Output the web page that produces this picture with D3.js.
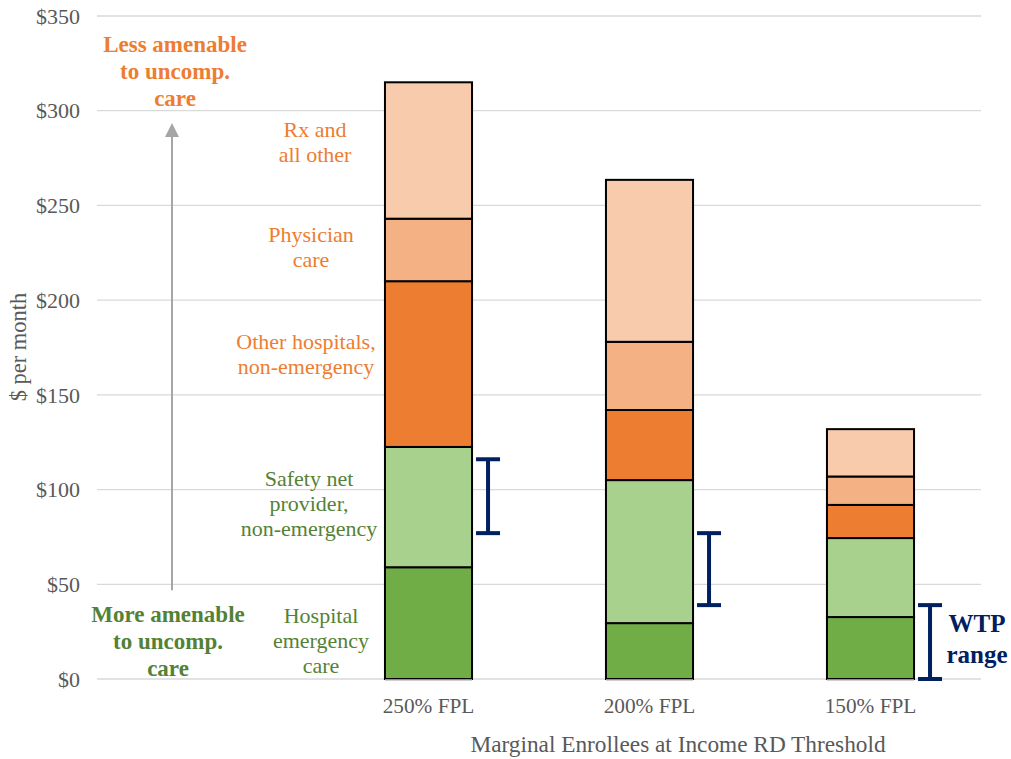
<!DOCTYPE html>
<html><head><meta charset="utf-8">
<script src="https://cdn.jsdelivr.net/npm/d3@7"></script>
<style>body{margin:0;background:#fff}text{font-family:"Liberation Serif","Times New Roman",serif}</style>
</head><body><svg id="c" width="1011" height="759" font-family="Liberation Serif"></svg>
<script>
const categories = ["", "250% FPL", "200% FPL", "150% FPL"];
const seriesNames = ["Hospital emergency care", "Safety net provider, non-emergency", "Other hospitals, non-emergency", "Physician care", "Rx and all other"];
const emergency = [null, 59, 29.5, 32.7];
const safetyNet = [null, 63.5, 75.5, 41.7];
const otherHosp = [null, 87.5, 37, 17.5];
const physician = [null, 33, 36, 15];
const rxOther = [null, 72, 85.5, 25];
const wtpLow = [null, 77, 39, 0];
const wtpHigh = [null, 116, 77, 39];
const yTicks = [0, 50, 100, 150, 200, 250, 300, 350];
const colors = ["#70ad47", "#a9d18e", "#ed7d31", "#f4b183", "#f8cbad"];
const seriesLabels = [["Hospital","emergency","care"],["Safety net","provider,","non-emergency"],["Other hospitals,","non-emergency"],["Physician","care"],["Rx and","all other"]];
const labelColors = ["#548235","#548235","#ed7d31","#ed7d31","#ed7d31"];

const svg = d3.select("#c");
const x = d3.scaleBand().domain(categories).range([97, 981]).paddingInner(0.606).paddingOuter(0.303);
const y = d3.scaleLinear().domain([0, 350]).range([679, 16]);

// gridlines
svg.append("g").selectAll("line").data(yTicks).join("line")
  .attr("x1", 97).attr("x2", 981).attr("y1", d => y(d)).attr("y2", d => y(d))
  .attr("stroke", "#d9d9d9").attr("stroke-width", 1.3);

// y axis labels
const yAxis = d3.axisLeft(y).tickValues(yTicks).tickSize(0).tickPadding(0).tickFormat(d => "$" + d);
const ga = svg.append("g").attr("transform", "translate(80,0)").call(yAxis);
ga.attr("font-family", "Liberation Serif");
ga.select(".domain").remove();
ga.selectAll("text").attr("font-size", 22).attr("fill", "#595959").attr("dy", "0.33em");

svg.append("text").attr("transform", "translate(26,347) rotate(-90)").attr("text-anchor", "middle")
  .attr("font-size", 22.5).attr("fill", "#595959").text("$ per month");

// stacked bars
const seriesArr = [emergency, safetyNet, otherHosp, physician, rxOther];
const rows = categories.map((c, i) => {
  const o = {cat: c};
  seriesNames.forEach((s, k) => o[s] = seriesArr[k][i] || 0);
  return o;
}).filter(r => r.cat !== "");
const stack = d3.stack().keys(seriesNames)(rows);
svg.append("g").selectAll("g").data(stack).join("g").attr("fill", (d, i) => colors[i])
  .selectAll("rect").data(d => d).join("rect")
  .attr("x", d => x(d.data.cat)).attr("width", x.bandwidth())
  .attr("y", d => y(d[1])).attr("height", d => y(d[0]) - y(d[1]))
  .attr("stroke", "#000").attr("stroke-width", 2);

// baseline segments under bars
svg.append("g").selectAll("line").data(rows).join("line")
  .attr("x1", d => x(d.cat)).attr("x2", d => x(d.cat) + x.bandwidth())
  .attr("y1", y(0) + 1).attr("y2", y(0) + 1).attr("stroke", "#bfbfbf").attr("stroke-width", 1.5);

// category labels
svg.append("g").selectAll("text").data(categories.filter(c => c)).join("text")
  .attr("x", d => x(d) + x.bandwidth() / 2).attr("y", 713).attr("text-anchor", "middle")
  .attr("font-size", 21.3).attr("fill", "#595959").text(d => d);

svg.append("text").attr("x", 678).attr("y", 752).attr("text-anchor", "middle")
  .attr("font-size", 23.3).attr("fill", "#595959").text("Marginal Enrollees at Income RD Threshold");

// WTP error bars
const wtp = categories.map((c, i) => ({cat: c, lo: wtpLow[i], hi: wtpHigh[i]})).filter(d => d.cat);
const wg = svg.append("g").attr("stroke", "#002060").attr("stroke-width", 4);
wtp.forEach(d => {
  const cx = x(d.cat) + x.bandwidth() + 16;
  wg.append("line").attr("x1", cx).attr("x2", cx).attr("y1", y(d.lo)).attr("y2", y(d.hi));
  wg.append("line").attr("x1", cx - 12).attr("x2", cx + 12).attr("y1", y(d.lo)).attr("y2", y(d.lo));
  wg.append("line").attr("x1", cx - 12).attr("x2", cx + 12).attr("y1", y(d.hi)).attr("y2", y(d.hi));
});
const wt = svg.append("text").attr("text-anchor", "middle").attr("font-size", 25).attr("font-weight", "bold").attr("fill", "#002060");
wt.append("tspan").attr("x", 977).attr("y", 632).text("WTP");
wt.append("tspan").attr("x", 977).attr("y", 663).text("range");

// series labels
const labelY = [[623, 648, 673], [486, 511, 536], [349, 374], [242, 267], [137, 162]];
const labelX = [321, 309, 306, 311, 315];
seriesLabels.forEach((lines, k) => {
  const t = svg.append("text").attr("text-anchor", "middle").attr("font-size", 22).attr("fill", labelColors[k]);
  lines.forEach((l, j) => t.append("tspan").attr("x", labelX[k]).attr("y", labelY[k][j]).text(l));
});

// arrow
svg.append("line").attr("x1", 172).attr("x2", 172).attr("y1", y(50) + 6).attr("y2", 136)
  .attr("stroke", "#a6a6a6").attr("stroke-width", 2);
svg.append("path").attr("d", "M172,123 L179,137 L165,137 Z").attr("fill", "#a6a6a6");

const lt = svg.append("text").attr("text-anchor", "middle").attr("font-size", 23).attr("font-weight", "bold").attr("fill", "#ed7d31");
[["Less amenable", 52], ["to uncomp.", 79], ["care", 106]].forEach(([s, yy]) => lt.append("tspan").attr("x", 175).attr("y", yy).text(s));
const mt = svg.append("text").attr("text-anchor", "middle").attr("font-size", 23).attr("font-weight", "bold").attr("fill", "#538135");
[["More amenable", 622], ["to uncomp.", 649], ["care", 676]].forEach(([s, yy]) => mt.append("tspan").attr("x", 168).attr("y", yy).text(s));
</script></body></html>
